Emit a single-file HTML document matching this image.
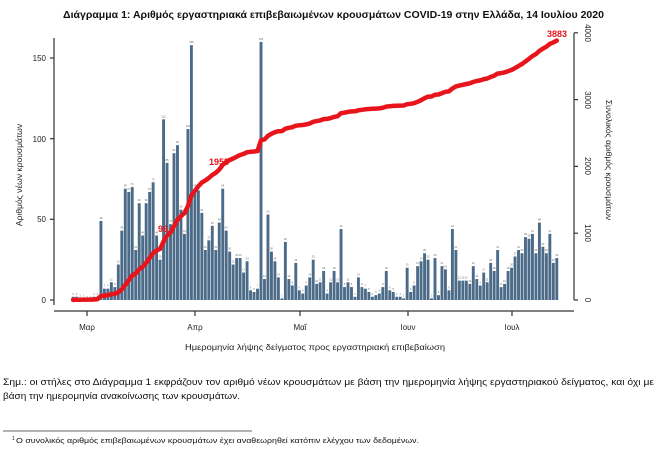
<!DOCTYPE html>
<html><head><meta charset="utf-8"><style>
html,body{margin:0;padding:0;background:#fff;width:668px;height:465px;overflow:hidden}
svg{position:absolute;left:0;top:0}
text{font-family:"Liberation Sans","DejaVu Sans",sans-serif}
</style></head><body>
<svg id="s" width="668" height="465" viewBox="0 0 668 465" xmlns="http://www.w3.org/2000/svg">
<text x="63" y="18" textLength="541" lengthAdjust="spacingAndGlyphs" font-size="10.5" font-weight="bold" fill="#111">Διάγραμμα 1: Αριθμός εργαστηριακά επιβεβαιωμένων κρουσμάτων COVID-19 στην Ελλάδα, 14 Ιουλίου 2020</text>
<g id="bars"></g>
<polyline id="cum" fill="none" stroke="#e8141c" stroke-width="4.5" stroke-linejoin="round" stroke-linecap="round" points=""/>
<g stroke="#333" stroke-width="1.2" fill="none">
<line x1="54" y1="38" x2="54" y2="305"/>
<line x1="54" y1="311" x2="574" y2="311"/>
<line x1="574" y1="33" x2="574" y2="300"/>
<line x1="50" y1="300" x2="54" y2="300"/><line x1="50" y1="219.3" x2="54" y2="219.3"/><line x1="50" y1="138.7" x2="54" y2="138.7"/><line x1="50" y1="58" x2="54" y2="58"/>
<line x1="574" y1="300" x2="578" y2="300"/><line x1="574" y1="233.2" x2="578" y2="233.2"/><line x1="574" y1="166.4" x2="578" y2="166.4"/><line x1="574" y1="99.6" x2="578" y2="99.6"/><line x1="574" y1="32.8" x2="578" y2="32.8"/>
<line x1="87" y1="311" x2="87" y2="316"/><line x1="195" y1="311" x2="195" y2="316"/><line x1="300" y1="311" x2="300" y2="316"/><line x1="408" y1="311" x2="408" y2="316"/><line x1="512" y1="311" x2="512" y2="316"/>
</g>
<g font-size="8" fill="#222" text-anchor="end">
<text x="46" y="303">0</text><text x="46" y="222">50</text><text x="46" y="142">100</text><text x="46" y="61">150</text>
</g>
<g font-size="8" fill="#222" text-anchor="middle">
<text transform="translate(585,300) rotate(90)">0</text>
<text transform="translate(585,233) rotate(90)">1000</text>
<text transform="translate(585,166) rotate(90)">2000</text>
<text transform="translate(585,100) rotate(90)">3000</text>
<text transform="translate(585,33) rotate(90)">4000</text>
<text transform="translate(606,160) rotate(90)" font-size="8.5">Συνολικός αριθμός κρουσμάτων</text>
<text transform="translate(22,175) rotate(-90)" font-size="8.5">Αριθμός νέων κρουσμάτων</text>
<text x="87" y="330">Μαρ</text><text x="195" y="330">Απρ</text><text x="300" y="330">Μαΐ</text><text x="408" y="330">Ιουν</text><text x="512" y="330">Ιουλ</text>
</g>
<text x="185" y="350" textLength="260" lengthAdjust="spacingAndGlyphs" font-size="8.5" fill="#222">Ημερομηνία λήψης δείγματος προς εργαστηριακή επιβεβαίωση</text>
<g font-weight="bold" fill="#e8141c" font-size="9">
<text x="158" y="232">96</text>
<text x="209" y="165">1955</text>
<text x="547" y="37">3883</text>
</g>
<g font-size="9" fill="#111">
<text x="3" y="385" textLength="651" lengthAdjust="spacingAndGlyphs">Σημ.: οι στήλες στο Διάγραμμα 1 εκφράζουν τον αριθμό νέων κρουσμάτων με βάση την ημερομηνία λήψης εργαστηριακού δείγματος, και όχι με</text>
<text x="3" y="399" textLength="237" lengthAdjust="spacingAndGlyphs">βάση την ημερομηνία ανακοίνωσης των κρουσμάτων.</text>
</g>
<line x1="3" y1="431" x2="252" y2="431" stroke="#333" stroke-width="0.8"/>
<text x="12" y="440" font-size="5" fill="#111">1</text>
<text x="16" y="443" textLength="403" lengthAdjust="spacingAndGlyphs" font-size="7.5" fill="#111">Ο συνολικός αριθμός επιβεβαιωμένων κρουσμάτων έχει αναθεωρηθεί κατόπιν ελέγχου των δεδομένων.</text>
</svg>
<script>
var v=[2,2,1,1,0,0,2,2,
49,7,7,11,8,22,43,69,67,70,31,60,40,60,67,73,40,25,112,85,47,91,96,56,41,106,158,
69,68,54,31,37,46,31,48,69,43,30,22,26,26,17,24,6,5,7,
160,
13,53,30,24,14,1,36,13,9,23,6,4,9,14,25,10,11,18,4,11,18,11,
44,
8,11,8,2,14,8,7,
5,2,3,4,8,18,6,5,2,2,1,20,5,9,21,24,29,25,1,26,3,21,19,6,44,31,12,12,12,10,21,13,9,17,11,23,18,31,8,10,18,20,27,31,29,39,38,41,29,48,33,29,41,23,26];
var ns="http://www.w3.org/2000/svg",g=document.getElementById("bars");
var tot=0;v.forEach(function(a){tot+=a});
var k=3883/tot,c=0,pts=[];
for(var i=0;i<v.length;i++){
 var d=i-4,x=87+3.48*d,h=v[i]*1.613;
 var r=document.createElementNS(ns,"rect");
 r.setAttribute("x",(x-1.45).toFixed(2));r.setAttribute("y",(300-h).toFixed(2));
 r.setAttribute("width","2.9");r.setAttribute("height",h.toFixed(2));r.setAttribute("fill","#4b6b89");
 g.appendChild(r);
 var t=document.createElementNS(ns,"text");
 t.setAttribute("x",x.toFixed(2));t.setAttribute("y",(298-h).toFixed(2));
 t.setAttribute("font-size","2.6");t.setAttribute("text-anchor","middle");t.setAttribute("fill","#666");
 t.textContent=v[i];g.appendChild(t);
 c+=v[i];pts.push(x.toFixed(1)+","+(300-c*k*0.0668).toFixed(1));
}
document.getElementById("cum").setAttribute("points",pts.join(" "));
</script>
</body></html>
